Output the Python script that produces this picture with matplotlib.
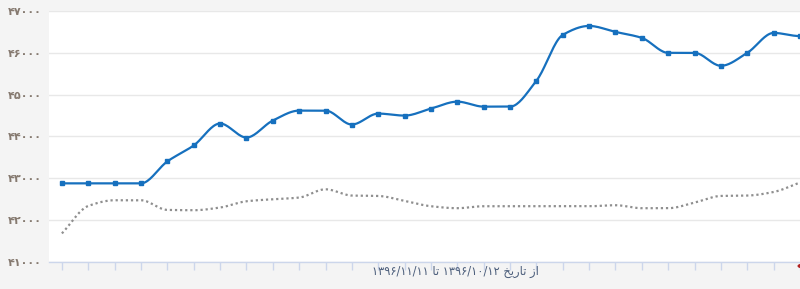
import numpy as np
import matplotlib
matplotlib.use("Agg")
import matplotlib.pyplot as plt

# daily values (index 0 = first day of the range)
price = [42880, 42880, 42880, 42880, 43405, 43786, 44310, 43976, 44381, 44619,
         44619, 44286, 44548, 44500, 44667, 44833, 44714, 44714, 45333, 46429,
         46643, 46500, 46357, 46000, 46000, 45690, 46000, 46476, 46400]
average = [41683, 42340, 42476, 42476, 42245, 42238, 42302, 42452, 42500, 42540,
           42738, 42588, 42579, 42460, 42333, 42286, 42333, 42333, 42333, 42333,
           42333, 42357, 42286, 42286, 42421, 42579, 42588, 42674, 42900]
yticks = [41000, 42000, 43000, 44000, 45000, 46000, 47000]

date_from = "1396/10/12"
date_to = "1396/11/11"

FA_DIGITS = str.maketrans("0123456789", "۰۱۲۳۴۵۶۷۸۹")


def fa(s):
    return str(s).translate(FA_DIGITS)


def pchip(x, y, n=20):
    # monotone cubic curve through the points, only for drawing
    x = np.asarray(x, float)
    y = np.asarray(y, float)
    h = np.diff(x)
    d = np.diff(y) / h
    m = np.zeros_like(y)
    for i in range(1, len(y) - 1):
        if d[i - 1] * d[i] > 0:
            w1 = 2 * h[i] + h[i - 1]
            w2 = h[i] + 2 * h[i - 1]
            m[i] = (w1 + w2) / (w1 / d[i - 1] + w2 / d[i])
    m[0] = d[0] if d[0] * d[min(1, len(d) - 1)] > 0 else 0
    m[-1] = d[-1] if d[-1] * d[-2] > 0 else 0
    xs, ys = [], []
    for i in range(len(h)):
        t = np.linspace(0, 1, n, endpoint=False)
        h00 = 2 * t**3 - 3 * t**2 + 1
        h10 = t**3 - 2 * t**2 + t
        h01 = -2 * t**3 + 3 * t**2
        h11 = t**3 - t**2
        xs.append(x[i] + t * h[i])
        ys.append(h00 * y[i] + h10 * h[i] * m[i] + h01 * y[i + 1] + h11 * h[i] * m[i + 1])
    xs.append([x[-1]])
    ys.append([y[-1]])
    return np.concatenate(xs), np.concatenate(ys)


x = np.arange(len(price))

fig = plt.figure(figsize=(8, 2.89), dpi=100, facecolor="#f4f4f4")
ax = fig.add_axes([49 / 800, 1 - 262 / 289, 1 - 49 / 800, 251 / 289])
ax.set_facecolor("white")

ax.set_ylim(41000, 47000)
ax.set_xlim(-0.49, 27.83)
ax.set_yticks(yticks)
ax.set_yticklabels([fa(v) for v in yticks], fontsize=8, fontweight="bold",
                   color="#867a70", family="DejaVu Sans")
ax.set_xticks(x)
ax.set_xticklabels([])
ax.grid(axis="y", color="#e8e8e8", linewidth=1)
ax.set_axisbelow(True)
for s in ["top", "right", "left"]:
    ax.spines[s].set_visible(False)
ax.spines["bottom"].set_color("#ccd6eb")
ax.spines["bottom"].set_linewidth(1)
ax.tick_params(axis="y", length=0, pad=5)
ax.tick_params(axis="x", length=6, color="#ccd6eb", width=1)

sx, sy = pchip(x, average)
ax.plot(sx, sy, color="#8f8f8f", linewidth=1.6, linestyle=(0, (1, 1.3)))

sx, sy = pchip(x, price)
ax.plot(sx, sy, color="#1670be", linewidth=1.6, solid_capstyle="round")
ax.plot(x, price, linestyle="none", marker="s", markersize=3.0, color="#1670be")

# shaped persian label, glyphs given in visual order
taa = "\uFE8E\uFE97"                          # تا
tarikh = "\uFEA6\uFEF3\uFEAD\uFE8E\uFE97"     # تاریخ
az = "\uFEAF\uFE8D"                           # از
label = f"{fa(date_to)} {taa} {fa(date_from)} {tarikh} {az}"
fig.text(455 / 800, 1 - 271 / 289, label, ha="center", va="center",
         fontsize=8.3, color="#4d5f7c", family="DejaVu Sans")

# small red marker cut by the right edge
fig.patches.append(matplotlib.patches.Circle((803 / 800, 1 - 266 / 289), 0.006,
                                             transform=fig.transFigure,
                                             color="#b22222", zorder=5))

fig.savefig("out.png", dpi=100, facecolor=fig.get_facecolor())
